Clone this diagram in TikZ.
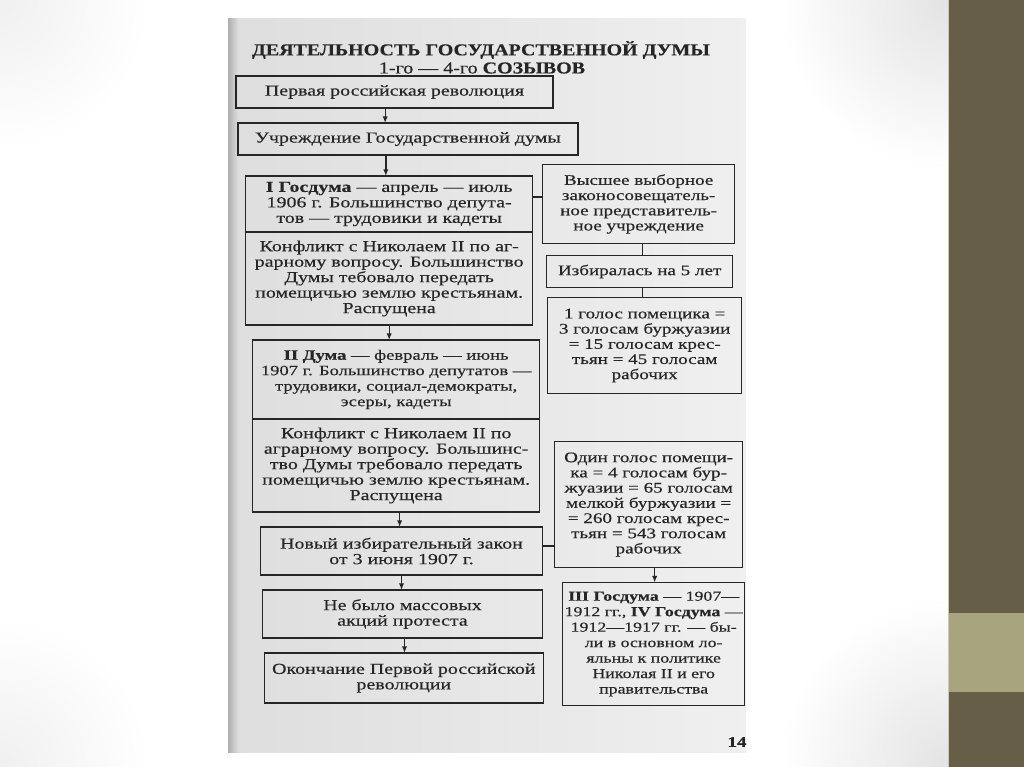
\documentclass[tikz,border=0pt]{standalone}
\usepackage{fontspec}
\setmainfont{Liberation Serif}[FakeStretch=1.3, FakeBold=0.4]
\newfontfamily\titlefont{Liberation Serif}[FakeStretch=1.2, FakeBold=0.4]
\usetikzlibrary{arrows.meta, positioning}

\definecolor{ink}{HTML}{262626}
\definecolor{olive}{HTML}{665E46}
\definecolor{khaki}{HTML}{A8A57E}

\begin{document}
\begin{tikzpicture}[
  x=0.75pt, y=-0.75pt,
  node distance=11.25pt and 7.5pt,
  block/.style={rectangle, draw=ink, line width=1.1pt, outer sep=0pt, inner sep=1pt, align=center, text=ink, font=\fontsize{11.5}{11.6}\selectfont},
  side/.style={block, font=\fontsize{11}{11.4}\selectfont},
  link/.style={draw=ink, line width=1pt},
  arrow/.style={link, -{Latex[length=5pt, width=4pt]}}
]
  % slide and scanned page
  \useasboundingbox (0,0) rectangle (1024,767);
  \fill[white] (0,0) rectangle (1024,767);
  \begin{scope}
    \clip (0,0) rectangle (948,767);
    \shade[inner color=black!11, outer color=white] (949,0) circle (170);
    \shade[inner color=black!11, outer color=white] (949,767) circle (170);
    \shade[inner color=black!6, outer color=white] (0,0) circle (150);
    \shade[inner color=black!6, outer color=white] (0,767) circle (150);
  \end{scope}
  \shade[left color=black!13, right color=black!6] (228,19) rectangle (746,752);
  \shade[left color=black!32, right color=black!13] (228,19) rectangle (238,752);
  \fill[olive] (949,0) rectangle (1024,767);
  \fill[khaki] (949,613) rectangle (1024,692);
  \draw[khaki!60!white, line width=0.8pt] (948.6,0) -- (948.6,767);

  % title
  \node[text=ink, font=\titlefont\fontsize{12.5}{13}\selectfont\bfseries] (title) at (481,50) {ДЕЯТЕЛЬНОСТЬ ГОСУДАРСТВЕННОЙ ДУМЫ};
  \node[text=ink, font=\titlefont\fontsize{12.5}{13}\selectfont] (subtitle) at (482,68) {1-го — 4-го \textbf{СОЗЫВОВ}};

  % left column
  \node[block, minimum width=237.75pt, minimum height=24pt] (rev) at (394.5,92) {Первая российская революция};
  \node[block, minimum width=255pt, minimum height=24pt, below=of rev, xshift=10pt] (uchr) {Учреждение Государственной думы};
  \node[block, minimum width=215.25pt, minimum height=42pt, below=15.75pt of uchr, xshift=-14pt] (d1) {\textbf{I Госдума} — апрель — июль\\1906 г. Большинство депута-\\тов — трудовики и кадеты};
  \node[block, minimum width=215.25pt, minimum height=69.75pt, below=0pt of d1] (d1k) {Конфликт с Николаем II по аг-\\рарному вопросу. Большинство\\Думы тебовало передать\\помещичью землю крестьянам.\\Распущена};
  \node[block, font=\fontsize{10.7}{11.6}\selectfont, minimum width=215.25pt, minimum height=59.25pt, below=of d1k, xshift=5.25pt] (d2) {\textbf{II Дума} — февраль — июнь\\1907 г. Большинство депутатов —\\трудовики, социал-демократы,\\эсеры, кадеты};
  \node[block, minimum width=215.25pt, minimum height=69.75pt, below=0pt of d2] (d2k) {Конфликт с Николаем II по\\аграрному вопросу. Большинс-\\тво Думы требовало передать\\помещичью землю крестьянам.\\Распущена};
  \node[block, minimum width=211.5pt, minimum height=36pt, below=of d2k, xshift=4pt] (zakon) {Новый избирательный закон\\от 3 июня 1907 г.};
  \node[block, minimum width=210pt, minimum height=36pt, below=of zakon, xshift=0.75pt] (akcii) {Не было массовых\\акций протеста};
  \node[block, minimum width=209.25pt, minimum height=37.5pt, below=of akcii, xshift=1pt] (konec) {Окончание Первой российской\\революции};

  % right column
  \node[side, minimum width=144pt, minimum height=59.25pt, right=of d1] (vys) {Высшее выборное\\законосовещатель-\\ное представитель-\\ное учреждение};
  \node[side, minimum width=139.5pt, minimum height=24pt, below=9pt of vys, xshift=0.75pt] (srok) {Избиралась на 5 лет};
  \node[side, minimum width=145.5pt, minimum height=72pt, below=7.5pt of srok, xshift=3.75pt] (golos1) {1 голос помещика =\\3 голосам буржуазии\\= 15 голосам крес-\\тьян = 45 голосам\\рабочих};
  \node[side, minimum width=141pt, minimum height=94.5pt, below=36pt of golos1, xshift=3pt] (golos2) {Один голос помещи-\\ка = 4 голосам бур-\\жуазии = 65 голосам\\мелкой буржуазии =\\= 260 голосам крес-\\тьян = 543 голосам\\рабочих};
  \node[side, font=\fontsize{10.3}{11.6}\selectfont, minimum width=136.5pt, minimum height=92.25pt, below=of golos2, xshift=3.75pt] (d34) {\textbf{III Госдума} — 1907—\\1912 гг., \textbf{IV Госдума} —\\1912—1917 гг. — бы-\\ли в основном ло-\\яльны к политике\\Николая II и его\\правительства};

  \node[text=ink, font=\fontsize{11}{12}\selectfont\bfseries] (page) at (737,742) {14};

  % connectors
  \draw[arrow] ([xshift=-7pt]rev.south) -- ([xshift=-7pt]rev.south |- uchr.north);
  \draw[arrow] ([xshift=-16.5pt]uchr.south) -- ([xshift=-16.5pt]uchr.south |- d1.north);
  \draw[arrow] (d1k.south) -- (d1k.south |- d2.north);
  \draw[arrow] ([xshift=2.6pt]d2k.south) -- ([xshift=2.6pt]d2k.south |- zakon.north);
  \draw[arrow] (zakon.south) -- (zakon.south |- akcii.north);
  \draw[arrow] ([xshift=1.5pt]akcii.south) -- ([xshift=1.5pt]akcii.south |- konec.north);

  \draw[link] ([yshift=5.25pt]d1.east) -- ([yshift=5.25pt]d1.east -| vys.west);
  \draw[link] ([xshift=3pt]vys.south) -- ([xshift=3pt]vys.south |- srok.north);
  \draw[link] ([xshift=2.25pt]srok.south) -- ([xshift=2.25pt]srok.south |- golos1.north);
  \draw[link] ([yshift=3.75pt]zakon.east) -- ([yshift=3.75pt]zakon.east -| golos2.west);
  \draw[arrow] ([xshift=4.5pt]golos2.south) -- ([xshift=4.5pt]golos2.south |- d34.north);
\end{tikzpicture}
\end{document}
